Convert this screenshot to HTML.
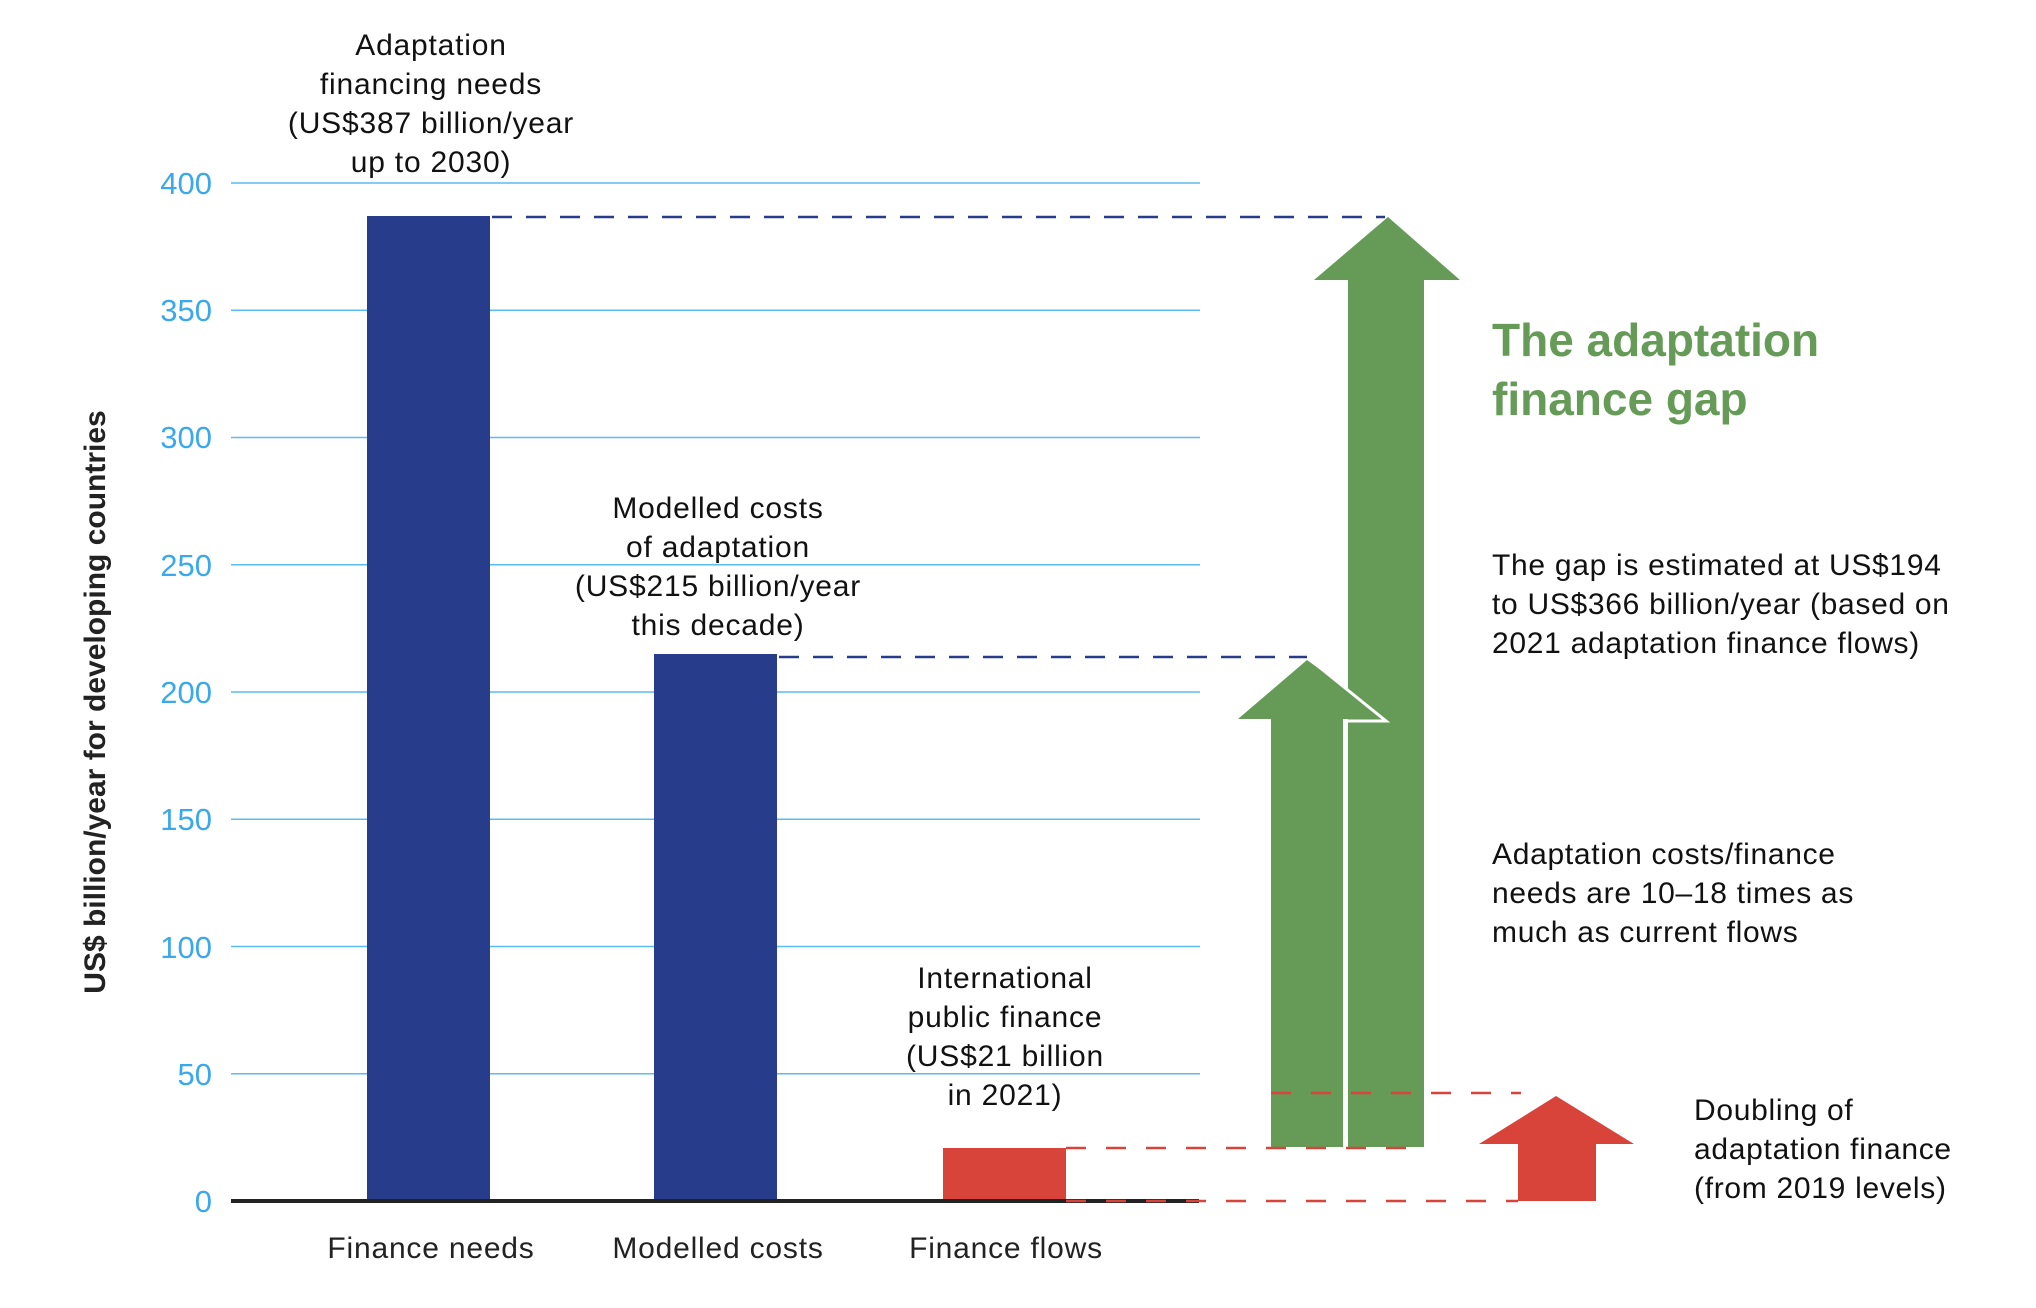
<!DOCTYPE html>
<html><head><meta charset="utf-8"><style>
html,body{margin:0;padding:0;background:#fff}
svg{display:block}
text{font-family:"Liberation Sans",sans-serif}
</style></head><body>
<svg width="2036" height="1308" viewBox="0 0 2036 1308" xmlns="http://www.w3.org/2000/svg">
<g stroke="#5bbcf0" stroke-width="1.5">
<line x1="231" x2="1200" y1="183" y2="183"/>
<line x1="231" x2="1200" y1="310.3" y2="310.3"/>
<line x1="231" x2="1200" y1="437.5" y2="437.5"/>
<line x1="231" x2="1200" y1="564.8" y2="564.8"/>
<line x1="231" x2="1200" y1="692" y2="692"/>
<line x1="231" x2="1200" y1="819.3" y2="819.3"/>
<line x1="231" x2="1200" y1="946.5" y2="946.5"/>
<line x1="231" x2="1200" y1="1073.8" y2="1073.8"/>
</g>
<g fill="#3aa8ec" font-size="31" text-anchor="end">
<text x="212" y="194">400</text>
<text x="212" y="321">350</text>
<text x="212" y="448">300</text>
<text x="212" y="576">250</text>
<text x="212" y="703">200</text>
<text x="212" y="830">150</text>
<text x="212" y="958">100</text>
<text x="212" y="1085">50</text>
<text x="212" y="1212">0</text>
</g>
<text transform="translate(105,702) rotate(-90)" text-anchor="middle" font-size="30" font-weight="bold" fill="#222">US$ billion/year for developing countries</text>
<rect x="367" y="216" width="123" height="985" fill="#283c8c"/>
<rect x="654" y="654" width="123" height="547" fill="#283c8c"/>
<rect x="943" y="1148" width="123" height="53" fill="#d9443a"/>
<line x1="231" x2="1199" y1="1201" y2="1201" stroke="#222" stroke-width="4"/>
<g stroke="#283c8c" stroke-width="2.5" stroke-dasharray="20 14">
<line x1="492" x2="1385" y1="217" y2="217"/>
<line x1="779" x2="1307" y1="657" y2="657"/>
</g>
<polygon points="1271,1147 1271,719 1238,719 1307,660 1388,719 1343,719 1343,1147" fill="#659b57"/>
<polygon points="1348,1147 1348,280 1314,280 1388,217 1460,280 1424,280 1424,1147" fill="#659b57"/>
<polyline points="1346,1147 1346,721 1386,721 1308,658" fill="none" stroke="#fff" stroke-width="3"/>
<polygon points="1518,1201 1518,1144 1479,1144 1556,1096 1634,1144 1596,1144 1596,1201" fill="#d9443a"/>
<g stroke="#d9443a" stroke-width="2.5" stroke-dasharray="20 20">
<line x1="1066" x2="1424" y1="1148" y2="1148"/>
<line x1="1271" x2="1521" y1="1093" y2="1093"/>
<line x1="1066" x2="1518" y1="1201" y2="1201"/>
</g>
<g font-size="30" letter-spacing="0.8" fill="#111" text-anchor="middle">
<text x="431" y="55">Adaptation</text>
<text x="431" y="94">financing needs</text>
<text x="431" y="133">(US$387 billion/year</text>
<text x="431" y="172">up to 2030)</text>
<text x="718" y="518">Modelled costs</text>
<text x="718" y="557">of adaptation</text>
<text x="718" y="596">(US$215 billion/year</text>
<text x="718" y="635">this decade)</text>
<text x="1005" y="988">International</text>
<text x="1005" y="1027">public finance</text>
<text x="1005" y="1066">(US$21 billion</text>
<text x="1005" y="1105">in 2021)</text>
</g>
<g font-size="30" letter-spacing="0.8" fill="#222" text-anchor="middle">
<text x="431" y="1258">Finance needs</text>
<text x="718" y="1258">Modelled costs</text>
<text x="1006" y="1258">Finance flows</text>
</g>
<g font-size="46" font-weight="bold" fill="#659b57">
<text x="1492" y="356">The adaptation</text>
<text x="1492" y="415">finance gap</text>
</g>
<g font-size="30" letter-spacing="0.7" fill="#111">
<text x="1492" y="575">The gap is estimated at US$194</text>
<text x="1492" y="614">to US$366 billion/year (based on</text>
<text x="1492" y="653">2021 adaptation finance flows)</text>
<text x="1492" y="864">Adaptation costs/finance</text>
<text x="1492" y="903">needs are 10–18 times as</text>
<text x="1492" y="942">much as current flows</text>
<text x="1694" y="1120">Doubling of</text>
<text x="1694" y="1159">adaptation finance</text>
<text x="1694" y="1198">(from 2019 levels)</text>
</g>
</svg>
</body></html>
